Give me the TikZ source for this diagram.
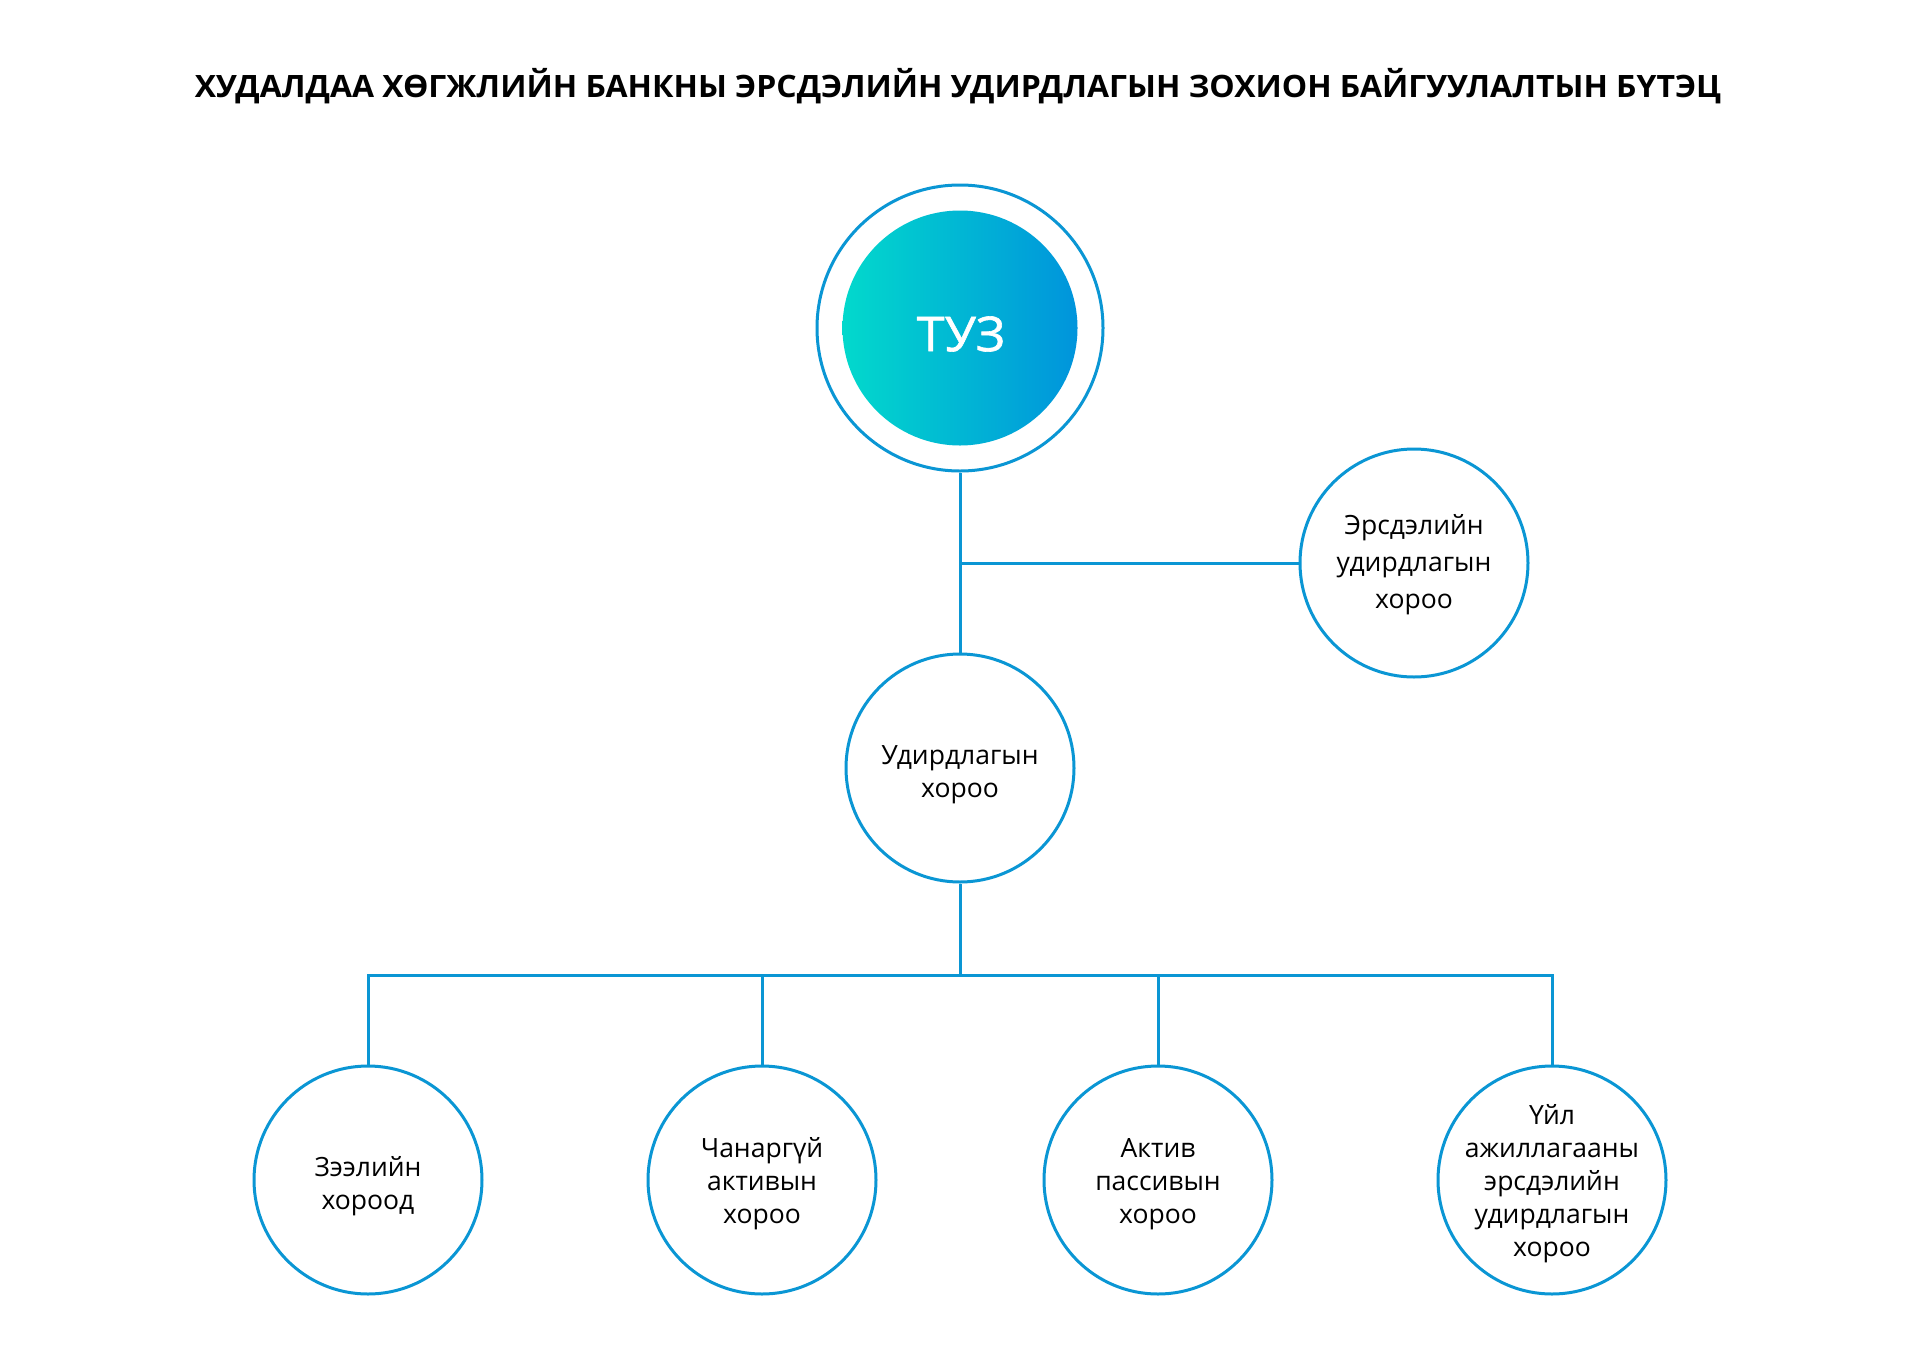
\documentclass[tikz,border=0pt]{standalone}
\usepackage{fontspec}
\setmainfont{Open Sans}
\newfontfamily\titlefont{Open Sans}
\newfontfamily\tuzfont{Open Sans}[FakeBold=1.2]
\definecolor{lineblue}{HTML}{0A96D4}
\definecolor{gradL}{HTML}{02D9CC}
\definecolor{gradR}{HTML}{0094DC}
\tikzset{
  conn/.style={draw=lineblue, line width=3pt},
  unit/.style={circle, draw=lineblue, line width=3pt, fill=white, inner sep=0pt,
    minimum size=228pt},
  unittext/.style={align=center, text=black, inner sep=0pt,
    font=\fontsize{26.5}{33}\selectfont},
  titletext/.style={font=\titlefont\bfseries\fontsize{30.8}{36}\selectfont, anchor=base, inner sep=0pt}
}
\begin{document}
\begin{tikzpicture}[x=1pt,y=-1pt]
\useasboundingbox (0,0) rectangle (1920,1371);
\fill[white] (0,0) rectangle (1920,1371);
% title
\node[titletext] (title) at (958,97) {\scalebox{1.037}[1]{ХУДАЛДАА ХӨГЖЛИЙН БАНКНЫ ЭРСДЭЛИЙН УДИРДЛАГЫН ЗОХИОН БАЙГУУЛАЛТЫН БҮТЭЦ}};
% top node
\node[circle, draw=lineblue, line width=3pt, inner sep=0pt, minimum size=286pt] (tuz) at (960,328) {};
\shade[left color=gradL, right color=gradR] (tuz.center) circle (117.5);
\node[text=white, font=\tuzfont\fontsize{48}{52}\selectfont, inner sep=0pt] (tuzlabel) at (961,334) {\scalebox{1.05}[1]{ТУЗ}};
% other nodes
\node[unit] (erm) at (1414,563) {};
\node[unittext, font=\fontsize{26.5}{37}\selectfont, yshift=-2pt] (ermt) at (erm.center) {Эрсдэлийн\\удирдлагын\\хороо};
\node[unit] (mid) at (960,768) {};
\node[unittext, yshift=-7pt] (midt) at (mid.center) {Удирдлагын\\хороо};
\node[unit] (b1) at (368,1180) {};
\node[unittext, yshift=-6pt] (b1t) at (b1.center) {Зээлийн\\хороод};
\node[unit] (b2) at (762,1180) {};
\node[unittext, yshift=-4pt] (b2t) at (b2.center) {Чанаргүй\\активын\\хороо};
\node[unit] (b3) at (1158,1180) {};
\node[unittext, yshift=-4pt] (b3t) at (b3.center) {Актив\\пассивын\\хороо};
\node[unit] (b4) at (1552,1180) {};
\node[unittext, yshift=-4pt] (b4t) at (b4.center) {Үйл\\ажиллагааны\\эрсдэлийн\\удирдлагын\\хороо};
% connectors
\coordinate (bus) at (960,975);
\draw[conn] (tuz.south) -- (mid.north);
\draw[conn] (erm.west) -- (erm.west -| tuz.south);
\draw[conn] (mid.south) -- (bus);
\draw[conn] (b1.north) |- (b4.north |- bus) -- (b4.north);
\draw[conn] (b2.north) -- (b2.north |- bus);
\draw[conn] (b3.north) -- (b3.north |- bus);
\end{tikzpicture}
\end{document}
